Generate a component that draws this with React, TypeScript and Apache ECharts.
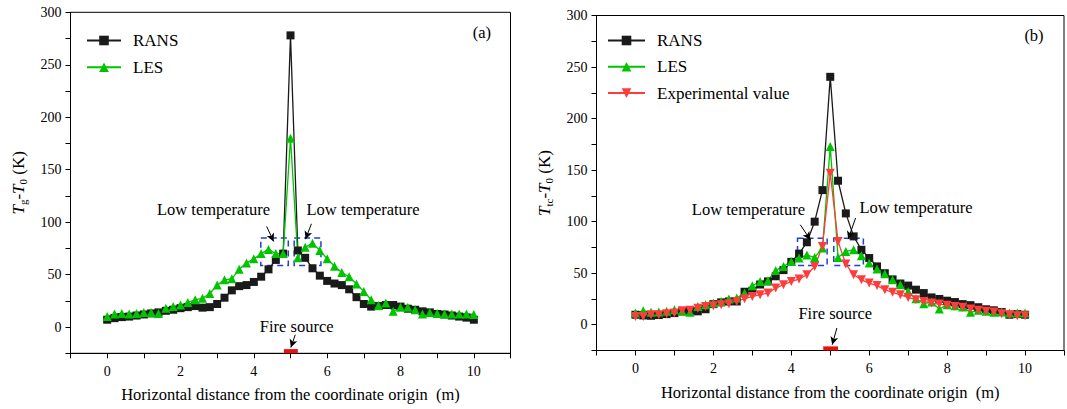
import React, { useEffect, useRef } from 'react';
import * as echarts from 'echarts';

const X = [0, 0.2, 0.4, 0.6, 0.8, 1, 1.2, 1.4, 1.6, 1.8, 2, 2.2, 2.4, 2.6, 2.8, 3, 3.2, 3.4, 3.6, 3.8, 4, 4.2, 4.4, 4.6, 4.8, 5, 5.2, 5.4, 5.6, 5.8, 6, 6.2, 6.4, 6.6, 6.8, 7, 7.2, 7.4, 7.6, 7.8, 8, 8.2, 8.4, 8.6, 8.8, 9, 9.2, 9.4, 9.6, 9.8, 10];

const RANS_A = [7, 8.5, 9.5, 10, 11, 12, 13, 14, 15.5, 16.5, 18, 19, 20, 18.5, 19, 22, 28, 35, 39, 40, 43, 48, 55, 64, 70, 278, 73, 66, 56, 49, 44, 41.5, 40, 36, 28.5, 22, 19.5, 20, 21, 21, 19.5, 17.5, 16.5, 15, 14, 12.5, 12, 11, 10, 9, 7];
const LES_A = [10, 12.5, 13, 12.5, 13, 14, 14, 13, 18, 19.5, 21, 23.5, 26, 27.5, 32, 40, 45, 46, 55, 61, 65, 70, 74, 70, 70, 180, 66, 76, 80, 73, 65, 58, 52, 48, 41, 34, 26, 20.5, 23, 15, 19, 19, 16.5, 12.5, 14, 13, 12.5, 12.5, 12.5, 12.5, 12];

const RANS_B = [9.7, 9, 8.7, 9.4, 10.3, 11.3, 13, 13.6, 13, 15, 20, 21.7, 22.6, 22.6, 32, 33, 39, 42, 47, 53, 61, 69, 80, 100, 130.6, 240.5, 139.7, 108, 85.7, 72.7, 64.7, 56.6, 50, 44, 40, 38, 34, 30.7, 26.5, 25, 23.3, 22, 20, 19, 17, 15, 14, 12.3, 9.7, 10.3, 9.7];
const LES_B = [11.3, 13.6, 12, 12.3, 13, 14.5, 13, 12, 17.8, 19.4, 21, 22.6, 25, 26, 30.7, 37.8, 42, 42.7, 52.7, 56.6, 61.4, 64.7, 67.6, 65.3, 74.4, 173, 65.3, 71.1, 72.7, 67, 59.8, 54, 49.5, 43.6, 38.8, 32.3, 25.2, 20.4, 22, 15.2, 19.4, 18.4, 17.1, 12, 14, 13, 12, 12.3, 11.3, 11.3, 11.3];
const EXP_B = [8, 8, 9.7, 9.7, 10.7, 11.3, 13.6, 14, 16, 17.8, 18.4, 19.4, 20.4, 22.6, 25.2, 27.5, 29, 30.7, 35.6, 38.8, 42, 44.3, 48.5, 56.6, 76, 147, 80.8, 58.8, 48.5, 43.6, 40.4, 38, 34, 31.4, 29, 26.5, 24.2, 22.6, 21, 20, 18.8, 17.8, 17, 15.2, 14, 13, 12.3, 10.7, 9.7, 8.7, 8.7];

const Y_TICK_LABELS = [0, 50, 100, 150, 200, 250, 300];
const X_TICK_LABELS = [0, 2, 4, 6, 8, 10];

const FONT = "'Liberation Serif', 'Times New Roman', serif";
const BLACK = '#1a1a1a';
const GREEN = '#00c400';
const RED = '#ff3b3b';
const BLUE = '#1f3fd6';

const pairs = (ys: number[]) => X.map((x, i) => [x, ys[i]]);

function xAxisFor(idx: number) {
  return {
    gridIndex: idx,
    type: 'value',
    min: -1,
    max: 11,
    interval: 1,
    axisLine: { onZero: false, lineStyle: { color: '#000', width: 1 } },
    axisTick: { inside: false, length: 5, lineStyle: { color: '#000' } },
    axisLabel: {
      formatter: (v: number) => (X_TICK_LABELS.includes(v) ? String(v) : ''),
      color: '#000', fontFamily: FONT, fontSize: 14, margin: 11,
    },
    splitLine: { show: false },
    name: 'Horizontal distance from the coordinate origin  (m)',
    nameLocation: 'middle',
    nameGap: 33,
    nameTextStyle: { fontFamily: FONT, fontSize: 16.5, color: '#000' },
  };
}

function yAxisFor(idx: number, sub: string) {
  return {
    gridIndex: idx,
    type: 'value',
    min: -25,
    max: 300,
    interval: 25,
    axisLine: { onZero: false, lineStyle: { color: '#000', width: 1 } },
    axisTick: { inside: false, length: 5, lineStyle: { color: '#000' } },
    axisLabel: {
      formatter: (v: number) => (Y_TICK_LABELS.includes(v) ? String(v) : ''),
      color: '#000', fontFamily: FONT, fontSize: 14, margin: 9,
    },
    splitLine: { show: false },
    name: `{i|T}{s|${sub}}{n|-}{i|T}{s|0}{n| (K)}`,
    nameLocation: 'middle',
    nameGap: 42,
    nameTextStyle: {
      fontFamily: FONT, fontSize: 17, color: '#000',
      rich: {
        i: { fontFamily: FONT, fontSize: 17, fontStyle: 'italic', color: '#000' },
        s: { fontFamily: FONT, fontSize: 11, color: '#000', padding: [9, 0, 0, 0] },
        n: { fontFamily: FONT, fontSize: 17, color: '#000' },
      },
    },
  };
}

const boxStyle = { color: 'rgba(0,0,0,0)', borderColor: BLUE, borderWidth: 1.5, borderType: [6, 4] };
const fireStyle = { color: '#e81010', borderWidth: 0 };

function lineSeries(name: string, idx: number, ys: number[], color: string, symbol: string, size: number, rotate = 0) {
  return {
    type: 'line', name, xAxisIndex: idx, yAxisIndex: idx,
    data: pairs(ys), symbol, symbolSize: size, symbolRotate: rotate,
    showAllSymbol: true,
    lineStyle: { color, width: 1.3 },
    itemStyle: { color },
    silent: true,
  };
}

export default function App() {
  const ref = useRef<HTMLDivElement>(null);
  useEffect(() => {
    if (!ref.current) return;
    const chart = echarts.init(ref.current, null, { renderer: 'svg' });
    const legendBase = {
      orient: 'vertical', padding: 0, itemHeight: 12,
      textStyle: { fontFamily: FONT, fontSize: 17, color: '#000', padding: [0, 0, 0, 7] },
      selectedMode: false,
    };
    const sA = lineSeries('LES', 0, LES_A, GREEN, 'triangle', 9);
    (sA as any).markArea = {
      silent: true, label: { show: false },
      data: [
        [{ coord: [4.19, 84.8], itemStyle: boxStyle }, { coord: [4.94, 58.7] }],
        [{ coord: [5.1, 84.8], itemStyle: boxStyle }, { coord: [5.83, 58.7] }],
        [{ coord: [4.82, -25], itemStyle: fireStyle }, { coord: [5.2, -21] }],
      ],
    };
    (sA as any).markLine = {
      silent: true, symbol: ['none', 'arrow'], symbolSize: [6, 8], label: { show: false },
      lineStyle: { color: '#000', width: 1, type: 'solid' },
      data: [
        [{ coord: [4.35, 95.9] }, { coord: [4.54, 81.6] }],
        [{ coord: [5.57, 98.4] }, { coord: [5.41, 83.8] }],
        [{ coord: [5.13, -7.3] }, { coord: [5.01, -19.4] }],
      ],
    };
    const sB = lineSeries('Experimental value', 1, EXP_B, RED, 'triangle', 9, 180);
    (sB as any).markArea = {
      silent: true, label: { show: false },
      data: [
        [{ coord: [4.16, 84], itemStyle: boxStyle }, { coord: [4.92, 57.5] }],
        [{ coord: [5.09, 84], itemStyle: boxStyle }, { coord: [5.85, 57.5] }],
        [{ coord: [4.82, -25], itemStyle: fireStyle }, { coord: [5.2, -21] }],
      ],
    };
    (sB as any).markLine = {
      silent: true, symbol: ['none', 'arrow'], symbolSize: [6, 8], label: { show: false },
      lineStyle: { color: '#000', width: 1, type: 'solid' },
      data: [
        [{ coord: [4.23, 97] }, { coord: [4.49, 82.4] }],
        [{ coord: [5.65, 103.5] }, { coord: [5.46, 83] }],
        [{ coord: [5.17, -3.2] }, { coord: [5.05, -19.4] }],
      ],
    };
    chart.setOption({
      animation: false,
      grid: [
        { left: 70.5, top: 12.3, width: 440, height: 341, show: true, borderColor: '#000', borderWidth: 1 },
        { left: 596.5, top: 15.5, width: 472, height: 335, show: true, borderColor: '#000', borderWidth: 1 },
      ],
      xAxis: [xAxisFor(0), xAxisFor(1)],
      yAxis: [yAxisFor(0, 'g'), yAxisFor(1, 'tc')],
      legend: [
        { ...legendBase, left: 86, top: 32, itemWidth: 34, itemGap: 9.7, data: ['RANS', 'LES'] },
        { ...legendBase, left: 607, top: 32, itemWidth: 37, itemGap: 9.3, data: ['RANS', 'LES', 'Experimental value'] },
      ],
      series: [
        lineSeries('RANS', 0, RANS_A, BLACK, 'rect', 8),
        sA,
        lineSeries('RANS', 1, RANS_B, BLACK, 'rect', 8),
        lineSeries('LES', 1, LES_B, GREEN, 'triangle', 9),
        sB,
      ],
    });
    const txt = (grid: number, x: number, y: number, text: string) => {
      const p = chart.convertToPixel({ xAxisIndex: grid, yAxisIndex: grid }, [x, y]) as number[];
      return {
        type: 'text', x: p[0], y: p[1], silent: true,
        style: { text, fontFamily: FONT, fontSize: 16.5, fill: '#000', align: 'center', verticalAlign: 'middle' },
      };
    };
    chart.setOption({
      graphic: [
        txt(0, 2.9, 111.7, 'Low temperature'),
        txt(0, 6.98, 111.7, 'Low temperature'),
        txt(0, 5.17, 0.3, 'Fire source'),
        txt(0, 10.22, 281, '(a)'),
        txt(1, 2.9, 112, 'Low temperature'),
        txt(1, 7.2, 114, 'Low temperature'),
        txt(1, 5.13, 11.3, 'Fire source'),
        txt(1, 10.23, 281, '(b)'),
      ],
    });
    return () => chart.dispose();
  }, []);
  return <div ref={ref} style={{ position: 'absolute', left: 0, top: 0, width: 1067, height: 409 }} />;
}
